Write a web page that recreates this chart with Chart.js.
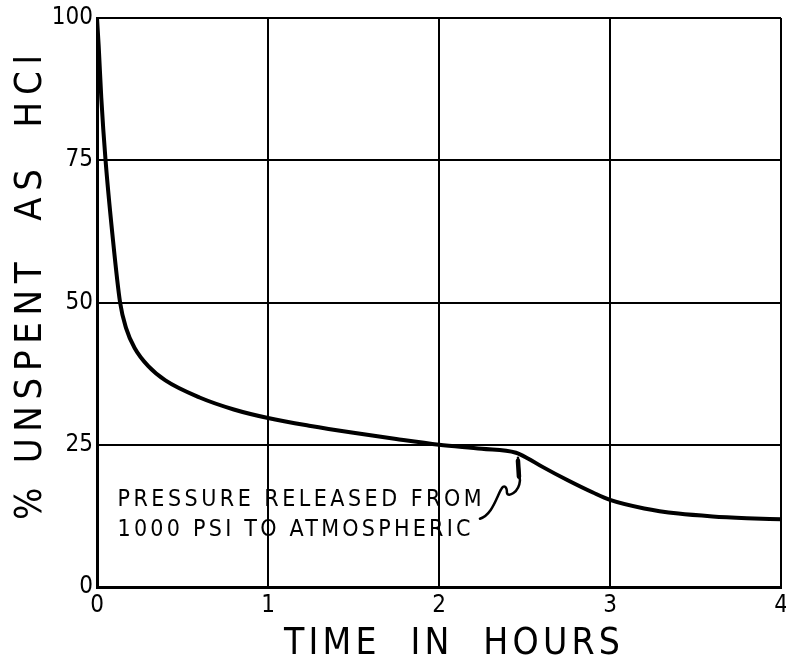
<!DOCTYPE html>
<html>
<head>
<meta charset="utf-8">
<script src="https://cdn.jsdelivr.net/npm/chart.js@4.4.1/dist/chart.umd.min.js"></script>
<style>
  html, body { margin: 0; padding: 0; background: #fff; }
  #wrap { width: 786px; height: 664px; }
</style>
</head>
<body>
<div id="wrap"><canvas id="chart"></canvas></div>
<script>
// time in hours and % unspent
const hours   = [0, 0.01, 0.025, 0.05, 0.09, 0.135, 0.17, 0.22, 0.3, 0.4, 0.6, 0.8, 1.0, 1.25, 1.5, 1.75, 2.0, 2.25, 2.45, 2.52, 2.6, 2.75, 2.9, 3.0, 3.2, 3.4, 3.6, 3.8, 4.0];
const unspent = [100, 95, 86, 75, 62, 50, 45.5, 42, 38.8, 36.3, 33.3, 31.2, 29.7, 28.3, 27.1, 26, 25, 24.3, 23.6, 22.6, 21.2, 18.8, 16.6, 15.3, 13.8, 12.9, 12.4, 12.1, 11.9];
const xTicks = [0, 1, 2, 3, 4];
const yTicks = [0, 25, 50, 75, 100];
const xTitle = 'TIME  IN  HOURS';
const yTitle = '% UNSPENT  AS  HCl';
const noteLines = ['PRESSURE RELEASED FROM', '1000 PSI TO ATMOSPHERIC'];
const releaseAt = { x: 2.45, y: 23.6 };

const points = hours.map((h, i) => ({ x: h, y: unspent[i] }));
const FONT = '"DejaVu Sans Condensed", "DejaVu Sans"';

// draws text spread out to a given width
function spreadText(ctx, text, x, y, width) {
  ctx.letterSpacing = '0px';
  const w = ctx.measureText(text).width;
  ctx.letterSpacing = ((width - w) / (text.length - 1)) + 'px';
  ctx.fillText(text, x, y);
  ctx.letterSpacing = '0px';
}

const lettering = {
  id: 'lettering',
  afterDatasetsDraw(chart) {
    const { ctx, scales: { x, y } } = chart;
    ctx.save();
    ctx.fillStyle = '#000';
    ctx.textAlign = 'left';
    ctx.textBaseline = 'middle';

    // note
    ctx.font = '23px ' + FONT;
    const nx = x.getPixelForValue(0.12);
    spreadText(ctx, noteLines[0], nx, y.getPixelForValue(15.3), 364);
    spreadText(ctx, noteLines[1], nx, y.getPixelForValue(10), 353);

    // wavy pointer
    const px = x.getPixelForValue(releaseAt.x), py = y.getPixelForValue(releaseAt.y);
    ctx.strokeStyle = '#000';
    ctx.lineWidth = 2.5;
    ctx.lineCap = 'round';
    ctx.beginPath();
    ctx.moveTo(px - 36, py + 66);
    ctx.bezierCurveTo(px - 24, py + 62, px - 20, py + 46, px - 15, py + 37);
    ctx.bezierCurveTo(px - 12, py + 31, px - 9, py + 34, px - 9, py + 40);
    ctx.bezierCurveTo(px - 8, py + 45, px + 3, py + 40, px + 4, py + 28);
    ctx.lineTo(px + 2, py + 5);
    ctx.stroke();
    ctx.lineWidth = 4.5;
    ctx.beginPath();
    ctx.moveTo(px + 3, py + 24);
    ctx.lineTo(px + 2, py + 8);
    ctx.stroke();

    // axis titles
    ctx.font = '37px ' + FONT;
    spreadText(ctx, xTitle, 284, 644, 336);
    ctx.translate(31, 520);
    ctx.rotate(-Math.PI / 2);
    ctx.font = '38px ' + FONT;
    spreadText(ctx, yTitle, 0, 0, 465);
    ctx.restore();
  }
};

new Chart(document.getElementById('chart'), {
  type: 'scatter',
  data: {
    datasets: [{
      data: points,
      showLine: true,
      borderColor: '#000',
      borderWidth: 4,
      pointRadius: 0,
      cubicInterpolationMode: 'monotone'
    }]
  },
  options: {
    responsive: true,
    maintainAspectRatio: false,
    animation: false,
    layout: { padding: { top: 18, right: 5, left: 0, bottom: 0 } },
    plugins: { legend: { display: false }, tooltip: { enabled: false } },
    scales: {
      x: {
        type: 'linear',
        min: 0, max: 4,
        afterBuildTicks: s => { s.ticks = xTicks.map(v => ({ value: v })); },
        afterFit: s => { s.height = 77; s.paddingLeft = 0; s.paddingRight = 0; },
        grid: { color: '#000', lineWidth: 2, drawTicks: false },
        border: { color: '#000', width: 3 },
        ticks: { color: '#000', font: { family: FONT, size: 24 }, padding: 4, maxRotation: 0 }
      },
      y: {
        min: 0, max: 100,
        afterBuildTicks: s => { s.ticks = yTicks.map(v => ({ value: v })); },
        afterFit: s => { s.width = 97; s.paddingTop = 0; s.paddingBottom = 0; },
        grid: { color: '#000', lineWidth: 2, drawTicks: false },
        border: { color: '#000', width: 3 },
        ticks: { color: '#000', font: { family: FONT, size: 24 }, padding: 4 }
      }
    }
  },
  plugins: [lettering]
});
</script>
</body>
</html>
